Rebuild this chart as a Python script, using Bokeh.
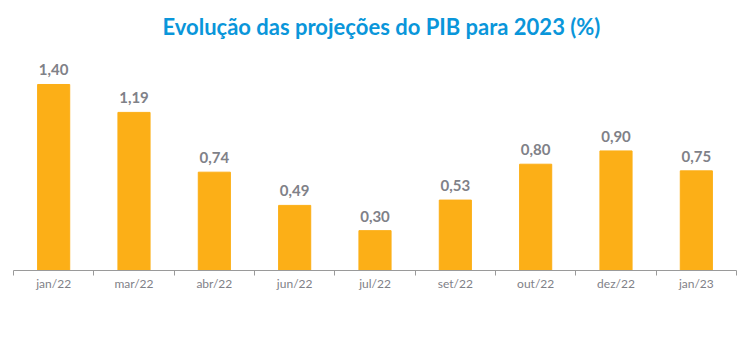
from bokeh.plotting import figure
from bokeh.models import ColumnDataSource, FixedTicker, Range1d, LabelSet
from bokeh.core.properties import value
from bokeh.embed import file_html
from bokeh.resources import INLINE

title = "Evolução das projeções do PIB para 2023 (%)"
categories = ["jan/22", "mar/22", "abr/22", "jun/22", "jul/22", "set/22", "out/22", "dez/22", "jan/23"]
values = [1.40, 1.19, 0.74, 0.49, 0.30, 0.53, 0.80, 0.90, 0.75]
labels = [f"{v:.2f}".replace(".", ",") for v in values]

n = len(categories)
xs = [i + 0.5 for i in range(n)]
src = ColumnDataSource(dict(x=xs, top=values, label=labels))

p = figure(width=750, height=355, output_backend="svg", toolbar_location=None,
           x_range=Range1d(0, n), y_range=Range1d(0, 1.686),
           min_border_left=13, min_border_right=14, min_border_top=46, min_border_bottom=85)
p.title.text = title
p.title.align = "left"
p.title.offset = 149
p.title.vertical_align = "top"
p.title.text_font = "Lato"
p.title.text_font_size = "22px"
p.title.text_font_style = "bold"
p.title.text_color = "#0A96DA"

p.vbar(x="x", top="top", width=0.4, bottom=0, source=src, color="#FCAF17")
p.add_layout(LabelSet(x="x", y="top", text="label", source=src, text_align="center",
                      text_baseline="bottom", y_offset=9, text_font=value("Lato"),
                      text_font_size=value("15px"), text_font_style=value("bold"),
                      text_color=value("#7F8188")))

p.yaxis.visible = False
p.xgrid.visible = False
p.ygrid.visible = False
p.outline_line_color = None

ax = p.xaxis[0]
ax.ticker = FixedTicker(ticks=xs, minor_ticks=list(range(n + 1)))
ax.major_label_overrides = {x: c for x, c in zip(xs, categories)}
ax.major_tick_line_color = None
ax.major_tick_out = 0
ax.major_tick_in = 0
ax.minor_tick_out = 5
ax.minor_tick_in = 0
ax.minor_tick_line_color = "#9A9A9A"
ax.axis_line_color = "#9A9A9A"
ax.major_label_standoff = 0
ax.major_label_text_font = "Lato"
ax.major_label_text_font_size = "12px"
ax.major_label_text_color = "#7F8188"

open("out.html", "w").write(file_html(p, INLINE))
